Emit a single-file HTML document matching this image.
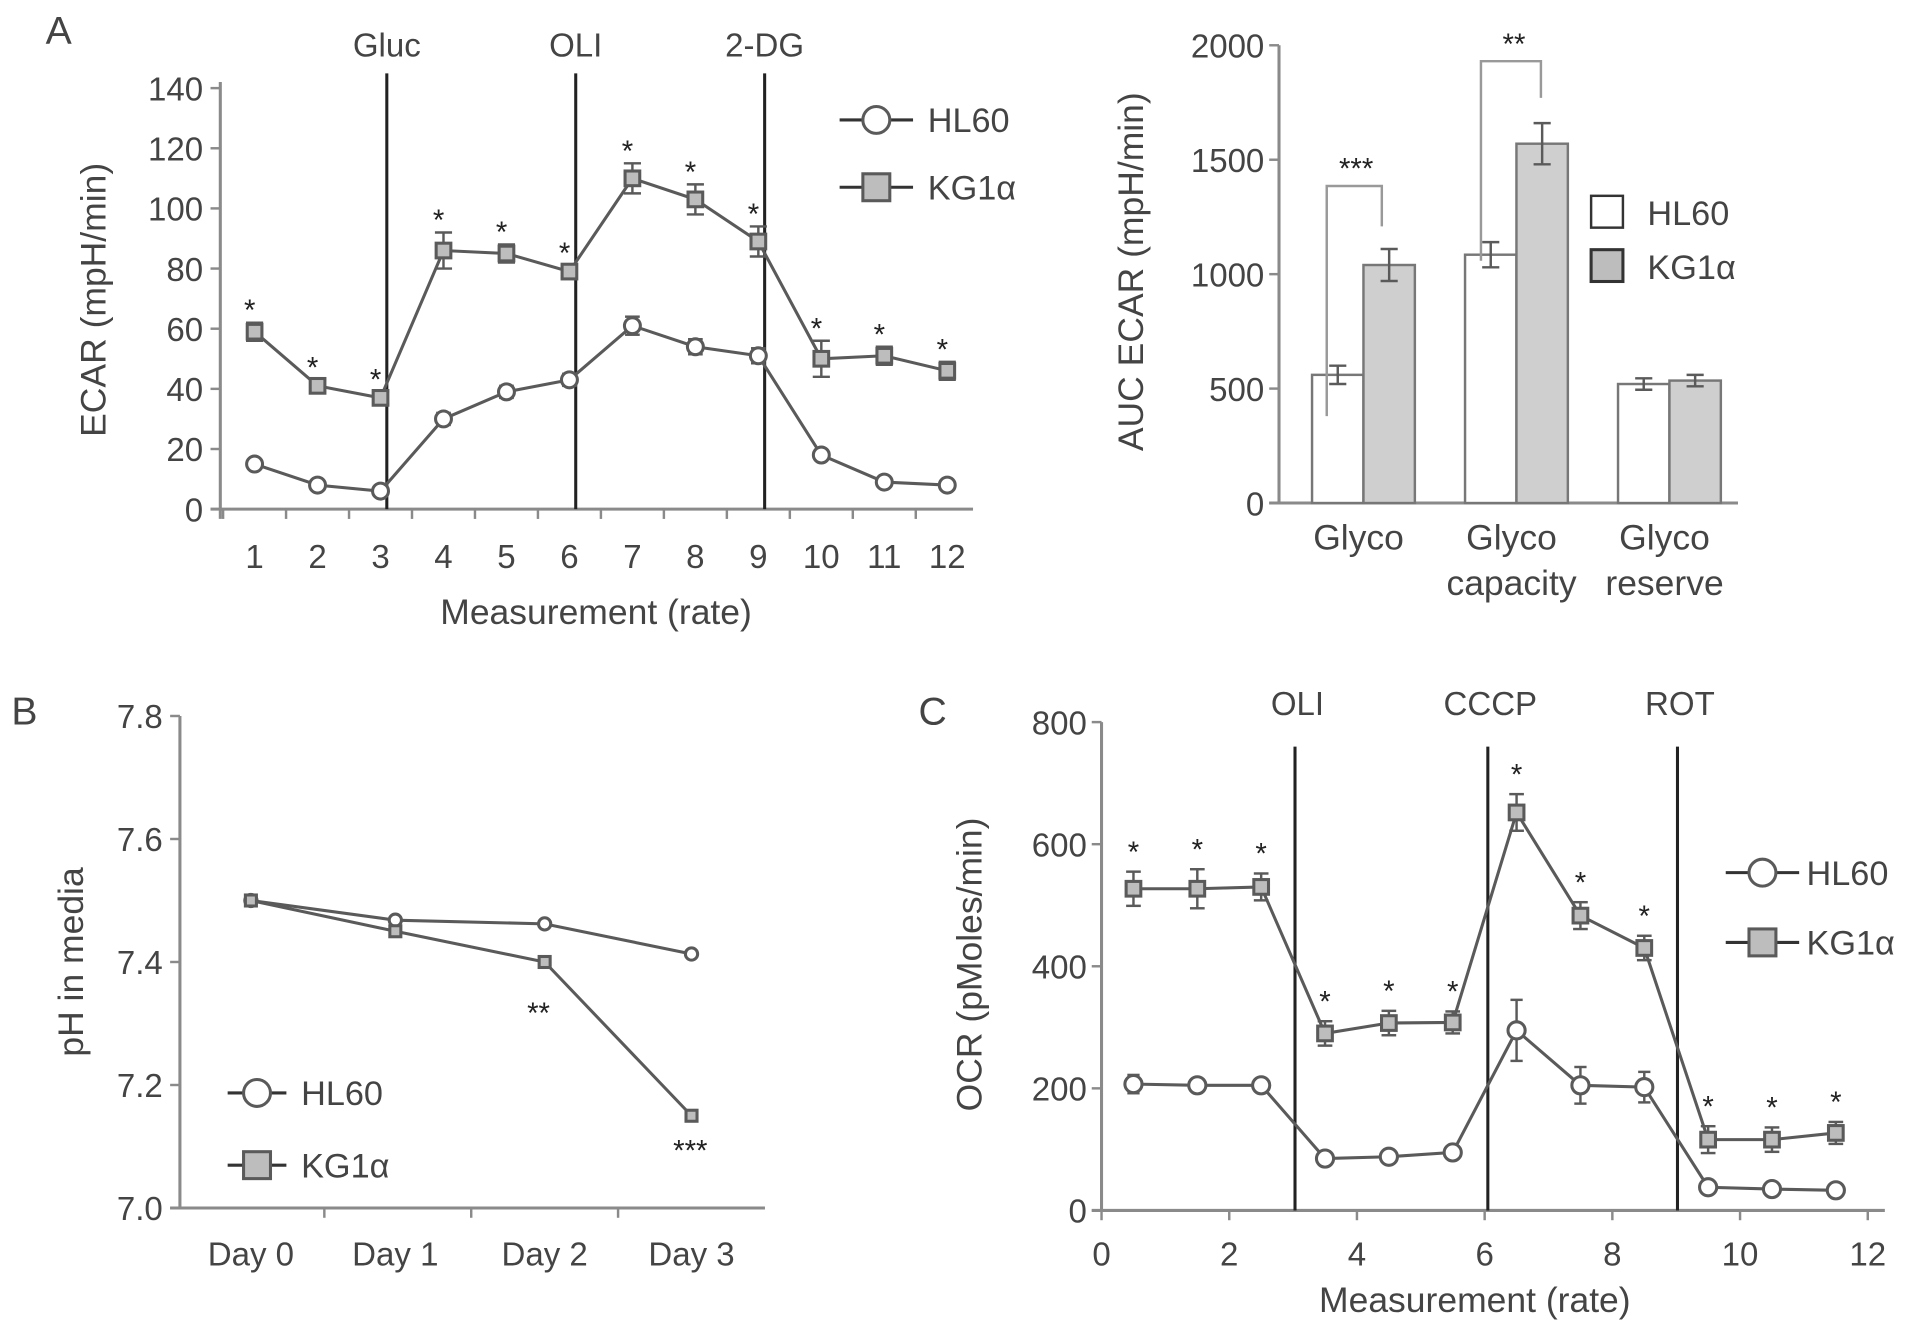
<!DOCTYPE html>
<html><head><meta charset="utf-8"><style>
html,body{margin:0;padding:0;background:#fff;}
svg{display:block;}
text{font-family:"Liberation Sans",sans-serif;fill:#444;}
</style></head><body>
<svg id="fig" width="1913" height="1331" viewBox="0 0 1563 1087.5" preserveAspectRatio="none" xmlns="http://www.w3.org/2000/svg"></svg>
<script>
// Panel A left
const aX = [1,2,3,4,5,6,7,8,9,10,11,12];
const aHL = [15,8,6,30,39,43,61,54,51,18,9,8];
const aHLerr = [1.5,1,1,2,2,2,3,2.5,2.5,1.5,1,1];
const aKG = [59,41,37,86,85,79,110,103,89,50,51,46];
const aKGerr = [3,2,2,6,3,2,5,5,5,6,3,3];
const aYTicks = [0,20,40,60,80,100,120,140];
const aStars = ["*","*","*","*","*","*","*","*","*","*","*","*"];
const aEvents = [3.1,6.1,9.1];
const aEventLabels = ["Gluc","OLI","2-DG"];
// Panel A right
const barCats = [["Glyco"],["Glyco","capacity"],["Glyco","reserve"]];
const barHL = [560,1085,520];
const barHLerr = [40,55,25];
const barKG = [1040,1570,535];
const barKGerr = [70,90,25];
const barYTicks = [0,500,1000,1500,2000];
// Panel B
const bCats = ["Day 0","Day 1","Day 2","Day 3"];
const bHL = [7.50,7.468,7.462,7.413];
const bKG = [7.50,7.45,7.40,7.15];
const bYTicks = [7.0,7.2,7.4,7.6,7.8];
// Panel C
const cX = [0.5,1.5,2.5,3.5,4.5,5.5,6.5,7.5,8.5,9.5,10.5,11.5];
const cHL = [207,205,205,85,88,95,295,205,202,38,35,33];
const cHLerr = [15,8,8,8,8,8,50,30,25,6,6,6];
const cKG = [527,527,530,290,307,308,652,483,430,116,116,127];
const cKGerr = [28,32,22,20,20,18,30,22,20,22,20,18];
const cXTicks = [0,2,4,6,8,10,12];
const cYTicks = [0,200,400,600,800];
const cEvents = [3.03,6.05,9.02];
const cEventLabels = ["OLI","CCCP","ROT"];

const svg = document.getElementById('fig');
const NS = 'http://www.w3.org/2000/svg';
const G = '#5a5a5a', AX = '#8a8a8a';
const TS = 27, TT = 29;
function el(tag, attrs, name, parent){
  const e = document.createElementNS(NS, tag);
  for (const k in attrs) e.setAttribute(k, attrs[k]);
  
  
  (parent||svg).appendChild(e);
  return e;
}
function txt(x,y,s,size,name,anchor,extra){
  const t = el('text', Object.assign({x:x,y:y,'font-size':size,'text-anchor':anchor||'middle'}, extra||{}), name);
  t.textContent = s; return t;
}
function line(x1,y1,x2,y2,stroke,w,name){ return el('line',{x1,y1,x2,y2,stroke,'stroke-width':w},name); }
function errbar(x,y1,y2,cap,name){
  line(x,y1,x,y2,G,2,name);
  line(x-cap,y1,x+cap,y1,G,2,name+'-cap-top');
  line(x-cap,y2,x+cap,y2,G,2,name+'-cap-bottom');
}
function circle(x,y,r,name){ el('circle',{cx:x,cy:y,r:r,fill:'#fff',stroke:G,'stroke-width':2.5},name); }
function square(x,y,s,name){ el('rect',{x:x-s/2,y:y-s/2,width:s,height:s,fill:'#bdbdbd',stroke:G,'stroke-width':2.5},name); }
function polyl(pts,name){ el('polyline',{points:pts.map(p=>p.join(',')).join(' '),fill:'none',stroke:G,'stroke-width':2.5},name); }

txt(48,36,'A',32,'panel-a-label');
txt(20,592,'B',32,'panel-b-label');
txt(762,592,'C',32,'panel-c-label');

// ===== Panel A left =====
(function(){
  const x0=180, y0=416, yTop=72;
  const sx = v => 208 + (v-1)*51.45;
  const sy = v => y0 - v/140*(y0-yTop);
  line(x0,yTop-5,x0,y0+8,AX,2.5,'a-y-axis');
  line(x0-8,y0,795,y0,AX,2.5,'a-x-axis');
  aYTicks.forEach(v=>{ line(x0-8,sy(v),x0,sy(v),AX,2,'a-y-tick'); txt(x0-14,sy(v)+10,String(v),TS,'a-y-tick-label','end'); });
  for(let i=0;i<=12;i++){ const xv=sx(i+0.5); if(xv<795) line(xv,y0,xv,y0+8,AX,2,'a-x-tick'); }
  aX.forEach(v=>txt(sx(v),464,String(v),TS,'a-x-tick-label'));
  txt(487,510,'Measurement (rate)',TT,'a-x-axis-title');
  txt(0,0,'ECAR (mpH/min)',TT,'a-y-axis-title','middle',{transform:'translate(86,245) rotate(-90)'});
  aEvents.forEach((e,i)=>{ line(sx(e),60,sx(e),416,'#222',2.5,'a-event-line'); txt(sx(e),46,aEventLabels[i],TS,'a-event-label'); });
  polyl(aX.map((v,i)=>[sx(v),sy(aHL[i])]),'a-hl60-line');
  polyl(aX.map((v,i)=>[sx(v),sy(aKG[i])]),'a-kg1a-line');
  aX.forEach((v,i)=>{ errbar(sx(v),sy(aHL[i]+aHLerr[i]),sy(aHL[i]-aHLerr[i]),6,'a-hl60-error'); circle(sx(v),sy(aHL[i]),6.5,'a-hl60-point'); });
  aX.forEach((v,i)=>{ errbar(sx(v),sy(aKG[i]+aKGerr[i]),sy(aKG[i]-aKGerr[i]),7,'a-kg1a-error'); square(sx(v),sy(aKG[i]),12,'a-kg1a-point');
    txt(sx(v)-4,sy(aKG[i]+aKGerr[i])-2,aStars[i],24,'a-significance','middle',{style:'fill:#222'}); });
  line(686,98,746,98,'#333',2.5,'a-legend-hl60-line'); circle(716,98,11,'a-legend-hl60-marker'); txt(758,108,'HL60',28,'a-legend-hl60','start');
  line(686,153,746,153,'#333',2.5,'a-legend-kg1a-line'); square(716,153,22,'a-legend-kg1a-marker'); txt(758,163,'KG1α',28,'a-legend-kg1a','start');
})();

// ===== Panel A right (bars) =====
(function(){
  const x0=1045, y0=411, yTop=37;
  const sy = v => y0 - v/2000*(y0-yTop);
  const groupX = [1114,1239,1364], bw=42;
  line(x0,yTop,x0,y0,AX,2.5,'bar-y-axis');
  line(x0-8,y0,1420,y0,AX,2.5,'bar-x-axis');
  barYTicks.forEach(v=>{ line(x0-8,sy(v),x0,sy(v),AX,2,'bar-y-tick'); txt(x0-12,sy(v)+10,String(v),TS,'bar-y-tick-label','end'); });
  txt(0,0,'AUC ECAR (mpH/min)',TT,'bar-y-axis-title','middle',{transform:'translate(934,222) rotate(-90)'});
  barCats.forEach((c,i)=>{
    const gx=groupX[i];
    el('rect',{x:gx-bw,y:sy(barHL[i]),width:bw,height:y0-sy(barHL[i]),fill:'#fff',stroke:'#777','stroke-width':2},'bar-hl60');
    el('rect',{x:gx,y:sy(barKG[i]),width:bw,height:y0-sy(barKG[i]),fill:'#cfcfcf',stroke:'#777','stroke-width':2},'bar-kg1a');
    errbar(gx-bw/2,sy(barHL[i]+barHLerr[i]),sy(barHL[i]-barHLerr[i]),7,'bar-hl60-error');
    errbar(gx+bw/2,sy(barKG[i]+barKGerr[i]),sy(barKG[i]-barKGerr[i]),7,'bar-kg1a-error');
    c.forEach((s,j)=>txt(gx-4,449+j*37,s,TT,'bar-category-label'));
  });
  el('polyline',{points:`1084,340 1084,152 1129,152 1129,185`,fill:'none',stroke:'#999','stroke-width':2},'bar-bracket-glyco');
  txt(1108,146,'***',24,'bar-significance','middle',{style:'fill:#222'});
  el('polyline',{points:`1210,213 1210,50 1259,50 1259,80`,fill:'none',stroke:'#999','stroke-width':2},'bar-bracket-capacity');
  txt(1237,44,'**',24,'bar-significance','middle',{style:'fill:#222'});
  el('rect',{x:1300,y:160,width:26,height:26,fill:'#fff',stroke:'#333','stroke-width':2},'bar-legend-hl60-swatch');
  txt(1346,184,'HL60',28,'bar-legend-hl60','start');
  el('rect',{x:1300,y:204,width:26,height:26,fill:'#bdbdbd',stroke:'#333','stroke-width':2.5},'bar-legend-kg1a-swatch');
  txt(1346,228,'KG1α',28,'bar-legend-kg1a','start');
})();

// ===== Panel B =====
(function(){
  const x0=147, y0=987, yTop=585;
  const sy = v => y0 - (v-7.0)/0.8*(y0-yTop);
  const catX = [205,323,445,565];
  line(x0,yTop,x0,y0,AX,2.5,'b-y-axis');
  line(x0-8,y0,625,y0,AX,2.5,'b-x-axis');
  bYTicks.forEach(v=>{ line(x0-8,sy(v),x0,sy(v),AX,2,'b-y-tick'); txt(x0-14,sy(v)+10,v.toFixed(1),TS,'b-y-tick-label','end'); });
  [265,385,505].forEach(x=>line(x,y0,x,y0+8,AX,2,'b-x-tick'));
  bCats.forEach((c,i)=>txt(catX[i],1034,c,TS,'b-x-tick-label'));
  txt(0,0,'pH in media',TT,'b-y-axis-title','middle',{transform:'translate(68,786) rotate(-90)'});
  polyl(catX.map((x,i)=>[x,sy(bHL[i])]),'b-hl60-line');
  polyl(catX.map((x,i)=>[x,sy(bKG[i])]),'b-kg1a-line');
  catX.forEach((x,i)=>circle(x,sy(bHL[i]),5,'b-hl60-point'));
  catX.forEach((x,i)=>square(x,sy(bKG[i]),9,'b-kg1a-point'));
  txt(440,836,'**',24,'b-significance','middle',{style:'fill:#222'});
  txt(564,948,'***',24,'b-significance','middle',{style:'fill:#222'});
  line(186,893,234,893,'#333',2.5,'b-legend-hl60-line'); circle(210,893,11,'b-legend-hl60-marker'); txt(246,903,'HL60',28,'b-legend-hl60','start');
  line(186,952,234,952,'#333',2.5,'b-legend-kg1a-line'); square(210,952,22,'b-legend-kg1a-marker'); txt(246,962,'KG1α',28,'b-legend-kg1a','start');
})();

// ===== Panel C =====
(function(){
  const x0=900, y0=989, yTop=590;
  const sx = v => x0 + v*52.17;
  const sy = v => y0 - v/800*(y0-yTop);
  line(x0,yTop,x0,y0,AX,2.5,'c-y-axis');
  line(x0-8,y0,1540,y0,AX,2.5,'c-x-axis');
  cYTicks.forEach(v=>{ line(x0-8,sy(v),x0,sy(v),AX,2,'c-y-tick'); txt(x0-12,sy(v)+10,String(v),TS,'c-y-tick-label','end'); });
  cXTicks.forEach(v=>{ line(sx(v),y0,sx(v),y0+8,AX,2,'c-x-tick'); txt(sx(v),1034,String(v),TS,'c-x-tick-label'); });
  txt(1205,1072,'Measurement (rate)',TT,'c-x-axis-title');
  txt(0,0,'OCR (pMoles/min)',TT,'c-y-axis-title','middle',{transform:'translate(802,788) rotate(-90)'});
  cEvents.forEach((e,i)=>{ line(sx(e),610,sx(e),y0,'#222',2.5,'c-event-line'); txt(sx(e)+2,584,cEventLabels[i],TS,'c-event-label'); });
  polyl(cX.map((v,i)=>[sx(v),sy(cHL[i])]),'c-hl60-line');
  polyl(cX.map((v,i)=>[sx(v),sy(cKG[i])]),'c-kg1a-line');
  cX.forEach((v,i)=>{ errbar(sx(v),sy(cHL[i]+cHLerr[i]),sy(cHL[i]-cHLerr[i]),5,'c-hl60-error'); circle(sx(v),sy(cHL[i]),7,'c-hl60-point'); });
  cX.forEach((v,i)=>{ errbar(sx(v),sy(cKG[i]+cKGerr[i]),sy(cKG[i]-cKGerr[i]),6,'c-kg1a-error'); square(sx(v),sy(cKG[i]),12,'c-kg1a-point');
    txt(sx(v),sy(cKG[i]+cKGerr[i])-8,'*',24,'c-significance','middle',{style:'fill:#222'}); });
  line(1410,713,1470,713,'#333',2.5,'c-legend-hl60-line'); circle(1440,713,11,'c-legend-hl60-marker'); txt(1476,723,'HL60',28,'c-legend-hl60','start');
  line(1410,770,1470,770,'#333',2.5,'c-legend-kg1a-line'); square(1440,770,22,'c-legend-kg1a-marker'); txt(1476,780,'KG1α',28,'c-legend-kg1a','start');
})();
</script>
</body></html>
